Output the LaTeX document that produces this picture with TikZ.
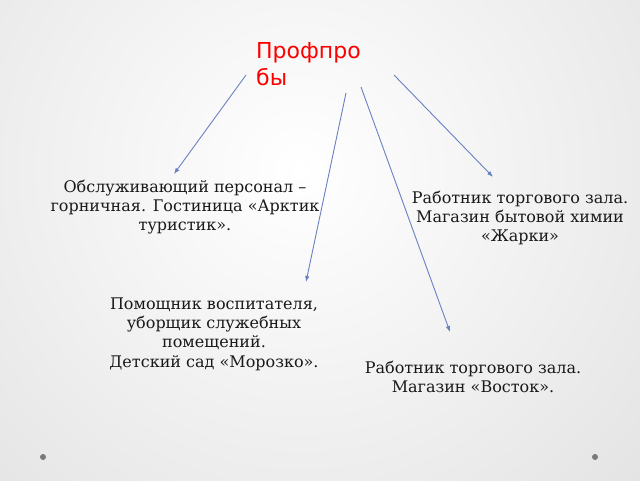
\documentclass[tikz,border=0pt]{standalone}
\usepackage{fontspec}
\setmainfont{DejaVu Serif}
\newfontfamily\titlefont{DejaVu Sans}
\usetikzlibrary{arrows.meta}
\definecolor{arrowblue}{HTML}{6A80C2}
\definecolor{bgedge}{HTML}{D6D6D6}
\definecolor{dotgray}{HTML}{7A7A7A}
\tikzset{
  conn/.style={draw=arrowblue, line width=0.9pt, -{Latex[length=6pt,width=4.5pt]}},
  body/.style={align=center, inner sep=0pt, text=black!90,
    font=\fontsize{16}{18.8}\selectfont},
  ttl/.style={align=left, inner sep=0pt, text=red,
    font=\titlefont\fontsize{22}{27}\selectfont},
  cornerdot/.style={fill=dotgray, draw=none}
}
\begin{document}
\begin{tikzpicture}[x=1pt,y=-1pt]
\useasboundingbox (0,0) rectangle (640,480);
\begin{scope}
  \clip (0,0) rectangle (640,480);
  \shade[inner color=white, outer color=bgedge] (300,170) circle (700);
\end{scope}

\node[ttl, anchor=base west] (title) at (256,85) {Профпро\\бы};

\node[body] (b1) at (185,207) {Обслуживающий персонал –\\горничная. Гостиница «Арктик\\туристик».};
\node[body] (b2) at (520,218) {Работник торгового зала.\\Магазин бытовой химии\\«Жарки»};
\node[body, font=\fontsize{16}{19.4}\selectfont] (b3) at (214,334) {Помощник воспитателя,\\уборщик служебных\\помещений.\\Детский сад «Морозко».};
\node[body] (b4) at (473,377) {Работник торгового зала.\\Магазин «Восток».};

\coordinate (s1) at (246,75);  \coordinate (e1) at (174,174);
\coordinate (s2) at (346,93);  \coordinate (e2) at (306,282);
\coordinate (s3) at (361,87);  \coordinate (e3) at (450,332);
\coordinate (s4) at (394,75);  \coordinate (e4) at (493,177);

\draw[conn] (s1) -- (e1);
\draw[conn] (s2) -- (e2);
\draw[conn] (s3) -- (e3);
\draw[conn] (s4) -- (e4);

\fill[cornerdot] (43,457) circle (3);
\fill[cornerdot] (595,457) circle (3);
\end{tikzpicture}
\end{document}
